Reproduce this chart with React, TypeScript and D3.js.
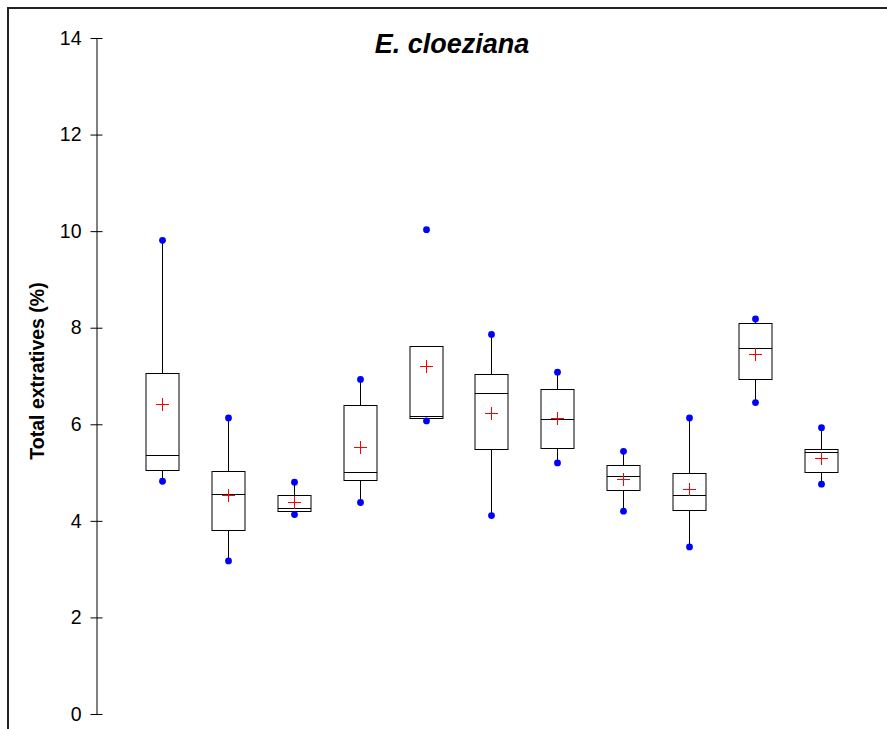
import React, { useEffect, useRef } from "react";
import * as d3 from "d3";

const categories = ["1", "2", "3", "4", "5", "6", "7", "8", "9", "10", "11"];
const whiskerLow = [4.82, 3.17, 4.13, 4.38, 6.07, 4.11, 5.2, 4.2, 3.46, 6.45, 4.76];
const q1 = [5.06, 3.82, 4.2, 4.84, 6.13, 5.48, 5.5, 4.64, 4.22, 6.94, 5.02];
const median = [5.37, 4.55, 4.26, 5.02, 6.18, 6.64, 6.11, 4.93, 4.53, 7.58, 5.43];
const q3 = [7.07, 5.04, 4.53, 6.39, 7.63, 7.05, 6.74, 5.16, 5.0, 8.09, 5.48];
const whiskerHigh = [9.81, 6.13, 4.8, 6.93, 7.63, 7.86, 7.08, 5.44, 6.13, 8.18, 5.93];
const minPoint = [4.82, 3.17, 4.13, 4.38, 6.07, 4.11, 5.2, 4.2, 3.46, 6.45, 4.76];
const maxPoint = [9.81, 6.13, 4.8, 6.93, 10.03, 7.86, 7.08, 5.44, 6.13, 8.18, 5.93];
const means = [6.43, 4.53, 4.4, 5.52, 7.21, 6.24, 6.13, 4.87, 4.65, 7.45, 5.31];
const yTicks = [0, 2, 4, 6, 8, 10, 12, 14];
const title = "E. cloeziana";
const yTitle = "Total extratives (%)";

const W = 887;
const H = 729;

export default function App() {
  const ref = useRef<SVGSVGElement>(null);

  useEffect(() => {
    const svg = d3.select(ref.current);
    svg.selectAll("*").remove();

    const y = d3.scaleLinear().domain([0, 14]).range([714, 38]);
    const x = d3.scaleBand<string>().domain(categories).range([129, 854]).padding(0);
    const bw = 33;
    const font = "Arial, 'Liberation Sans', sans-serif";
    const py = (v: number) => Math.round(y(v)) + 0.5;

    // frame
    svg.append("line").attr("x1", 8).attr("x2", 8).attr("y1", 7).attr("y2", H)
      .attr("stroke", "#222").attr("stroke-width", 2);
    svg.append("line").attr("x1", 7).attr("x2", W).attr("y1", 8).attr("y2", 8)
      .attr("stroke", "#222").attr("stroke-width", 2);

    // y axis
    const axis = d3.axisLeft(y).tickValues(yTicks).tickSizeInner(0).tickSizeOuter(0).tickPadding(15);
    const g = svg.append("g").attr("transform", "translate(96.5,0)").call(axis);
    g.select(".domain").attr("stroke", "#000");
    g.selectAll(".tick text")
      .attr("font-size", 19.5).attr("font-family", font).attr("fill", "#000");
    g.selectAll(".tick").append("line")
      .attr("x1", -6).attr("x2", 6).attr("stroke", "#000");

    // y title
    svg.append("text")
      .attr("transform", `translate(44,371) rotate(-90)`)
      .attr("text-anchor", "middle")
      .attr("font-family", font).attr("font-weight", "bold").attr("font-size", 19.5)
      .text(yTitle);

    // title
    svg.append("text")
      .attr("x", 452).attr("y", 53)
      .attr("text-anchor", "middle")
      .attr("font-family", font).attr("font-weight", "bold").attr("font-style", "italic")
      .attr("font-size", 27)
      .text(title);

    categories.forEach((c, i) => {
      const cx = Math.round((x(c) as number) + x.bandwidth() / 2) + 0.5;
      const grp = svg.append("g");
      // whiskers
      grp.append("line").attr("x1", cx).attr("x2", cx)
        .attr("y1", py(q3[i])).attr("y2", py(whiskerHigh[i])).attr("stroke", "#000");
      grp.append("line").attr("x1", cx).attr("x2", cx)
        .attr("y1", py(q1[i])).attr("y2", py(whiskerLow[i])).attr("stroke", "#000");
      // box
      grp.append("rect")
        .attr("x", cx - bw / 2).attr("width", bw)
        .attr("y", py(q3[i])).attr("height", py(q1[i]) - py(q3[i]))
        .attr("fill", "none").attr("stroke", "#000");
      // median
      grp.append("line").attr("x1", cx - bw / 2).attr("x2", cx + bw / 2)
        .attr("y1", py(median[i])).attr("y2", py(median[i])).attr("stroke", "#000");
      // min/max dots
      [minPoint[i], maxPoint[i]].forEach((v) => {
        grp.append("circle").attr("cx", cx).attr("cy", y(v)).attr("r", 3.4).attr("fill", "#0000ff");
      });
      // mean plus
      const my = py(means[i]);
      grp.append("line").attr("x1", cx - 6.5).attr("x2", cx + 6.5)
        .attr("y1", my).attr("y2", my).attr("stroke", "#ff0000");
      grp.append("line").attr("x1", cx).attr("x2", cx)
        .attr("y1", my - 6.5).attr("y2", my + 6.5).attr("stroke", "#ff0000");
    });
  }, []);

  return (
    <svg
      ref={ref}
      width={W}
      height={H}
      style={{ position: "absolute", left: 0, top: 0, background: "#fff" }}
    />
  );
}
